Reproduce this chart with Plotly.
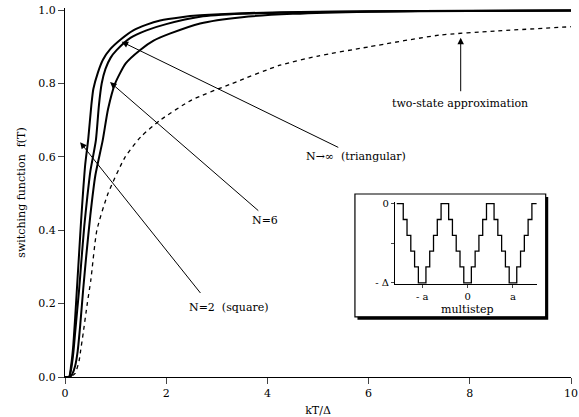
import plotly.graph_objects as go

# f(T) versus kT/Delta for the multistep barrier models
x_tri = [0, 0.08, 0.12, 0.16, 0.2, 0.24, 0.28, 0.32, 0.36, 0.4, 0.46, 0.52, 0.56, 0.65, 0.75, 0.89, 1.1, 1.35, 1.6, 1.88, 2.3, 2.67, 3.5, 5, 7, 10]
f_tri = [0, 0, 0.03, 0.08, 0.16, 0.25, 0.34, 0.43, 0.51, 0.58, 0.65, 0.74, 0.785, 0.83, 0.865, 0.893, 0.92, 0.945, 0.96, 0.972, 0.981, 0.986, 0.992, 0.996, 0.998, 0.999]

x_n6 = [0, 0.08, 0.12, 0.16, 0.2, 0.24, 0.28, 0.32, 0.38, 0.44, 0.5, 0.61, 0.67, 0.725, 0.8, 0.9, 1.02, 1.3, 1.61, 2.0, 2.67, 3.5, 5, 7, 10]
f_n6 = [0, 0, 0.02, 0.06, 0.12, 0.18, 0.24, 0.31, 0.41, 0.49, 0.56, 0.645, 0.74, 0.8, 0.84, 0.87, 0.891, 0.925, 0.945, 0.962, 0.982, 0.99, 0.995, 0.998, 0.999]

x_sq = [0, 0.1, 0.15, 0.2, 0.25, 0.3, 0.36, 0.42, 0.5, 0.6, 0.745, 0.85, 0.99, 1.2, 1.48, 1.75, 2.07, 2.67, 3.5, 4.5, 6, 8, 10]
f_sq = [0, 0, 0.01, 0.03, 0.07, 0.14, 0.24, 0.33, 0.44, 0.55, 0.645, 0.73, 0.8, 0.855, 0.891, 0.917, 0.936, 0.964, 0.981, 0.99, 0.996, 0.998, 0.999]

x_two = [0, 0.1, 0.2, 0.28, 0.31, 0.36, 0.44, 0.51, 0.63, 0.85, 1.19, 1.5, 1.88, 2.5, 3.3, 4.25, 5, 6, 7.4, 8.5, 10]
f_two = [0, 0, 0.01, 0.045, 0.073, 0.12, 0.2, 0.264, 0.4, 0.5, 0.6, 0.655, 0.7, 0.755, 0.8, 0.85, 0.875, 0.9, 0.932, 0.943, 0.955]

# inset: quantized triangular barrier, six levels between 0 and -Delta
step_levels = [0, -0.2, -0.4, -0.6, -0.8, -1.0]
inset_xticks = [-1, 0, 1]
inset_xlabels = ["- a", "0", "a"]
inset_yticks = [0, -0.5, -1]
inset_ylabels = ["0", "", "- \u0394"]

serif = "DejaVu Serif"
fig = go.Figure()

for xs, ys in [(x_tri, f_tri), (x_n6, f_n6), (x_sq, f_sq)]:
    fig.add_trace(go.Scatter(x=xs, y=ys, mode="lines", line=dict(color="black", width=2, shape="spline", smoothing=0.6),
                             showlegend=False, hoverinfo="skip"))
fig.add_trace(go.Scatter(x=x_two, y=f_two, mode="lines",
                         line=dict(color="black", width=1.3, dash="4px,4px", shape="spline", smoothing=0.6),
                         showlegend=False, hoverinfo="skip"))

# staircase path built from the level list (one level per 1/12 of a period)
n = len(step_levels)
w = 0.5 / n
sx, sy = [], []
centers = [-1.5, -1.0, -0.5, 0.0, 0.5, 1.0, 1.5]
for i in range(len(centers) - 1):
    c0 = centers[i]
    desc = (i % 2 == 0)
    for k in range(n):
        lev = step_levels[k] if desc else step_levels[n - 1 - k]
        x0 = c0 + k * w
        x1 = c0 + (k + 1) * w
        if i == 0 and k == 0:
            x0 = c0 - 0.06
        sx += [x0, x1]
        sy += [lev, lev]
sx += [1.5, 1.54]
sy += [0, 0]
fig.add_trace(go.Scatter(x=sx, y=sy, mode="lines", line=dict(color="black", width=1.3),
                         xaxis="x2", yaxis="y2", showlegend=False, hoverinfo="skip"))

# inset frame with drop shadow
bx0, bx1, by0, by1 = 0.573, 0.95, 0.163, 0.496
fig.add_shape(type="rect", xref="paper", yref="paper", x0=bx0 + 0.005, x1=bx1 + 0.005, y0=by0 - 0.008, y1=by1 - 0.008,
              fillcolor="black", line=dict(width=0), layer="below")
fig.add_shape(type="rect", xref="paper", yref="paper", x0=bx0, x1=bx1, y0=by0, y1=by1,
              fillcolor="white", line=dict(color="black", width=1.2), layer="below")

ann = []
def arrow(tip, tail):
    ann.append(dict(x=tip[0], y=tip[1], ax=tail[0], ay=tail[1], xref="x", yref="y", axref="x", ayref="y",
                    text="", showarrow=True, arrowhead=2, arrowsize=1.3, arrowwidth=1, arrowcolor="black"))

arrow((1.12, 0.914), (5.43, 0.624))
arrow((0.89, 0.804), (3.85, 0.45))
arrow((0.30, 0.64), (2.7, 0.225))
arrow((7.82, 0.925), (7.82, 0.775))

font = dict(family=serif, size=11, color="black")
small = dict(family=serif, size=10, color="black")
ann += [
    dict(x=7.8, y=0.745, xref="x", yref="y", text="two-state approximation", showarrow=False, font=font),
    dict(x=4.72, y=0.6, xref="x", yref="y", text="N\u2192\u221e  (triangular)", showarrow=False, font=font, xanchor="left"),
    dict(x=3.95, y=0.427, xref="x", yref="y", text="N=6", showarrow=False, font=font),
    dict(x=2.41, y=0.19, xref="x", yref="y", text="N=2  (square)", showarrow=False, font=font, xanchor="left"),
    dict(x=0.796, y=0.183, xref="paper", yref="paper", text="multistep", showarrow=False, font=font,
         xanchor="center", yanchor="middle"),
]

fig.update_layout(
    width=579, height=417,
    margin=dict(l=65, r=8, t=8, b=40, autoexpand=False),
    paper_bgcolor="white", plot_bgcolor="rgba(0,0,0,0)",
    font=font,
    annotations=ann,
    xaxis=dict(range=[0, 10], dtick=2, ticks="outside", ticklen=6, tickwidth=1, showline=True, linewidth=1.3,
               linecolor="black", showgrid=False, zeroline=False, tickfont=font, automargin=False,
               title=dict(text="kT/\u0394", font=font, standoff=9)),
    yaxis=dict(range=[0, 1.006], tickvals=[0, 0.2, 0.4, 0.6, 0.8, 1.0], ticktext=["0.0", "0.2", "0.4", "0.6", "0.8", "1.0"],
               ticks="outside", ticklen=6, tickwidth=1, showline=True, linewidth=1.3, automargin=False,
               linecolor="black", showgrid=False, zeroline=False, tickfont=font,
               title=dict(text="switching function  f(T)", font=font, standoff=10)),
    xaxis2=dict(domain=[0.652, 0.932], anchor="y2", range=[-1.6, 1.52], tickvals=inset_xticks, ticktext=inset_xlabels,
                ticks="outside", ticklen=3, showline=True, linecolor="black", linewidth=1, showgrid=False,
                zeroline=False, tickfont=small, automargin=False),
    yaxis2=dict(domain=[0.251, 0.474], anchor="x2", range=[-1.02, 0.02], tickvals=inset_yticks, ticktext=inset_ylabels,
                ticks="outside", ticklen=3, showline=True, linecolor="black", linewidth=1, showgrid=False,
                zeroline=False, tickfont=small, automargin=False),
)

fig.write_html("out.html")
